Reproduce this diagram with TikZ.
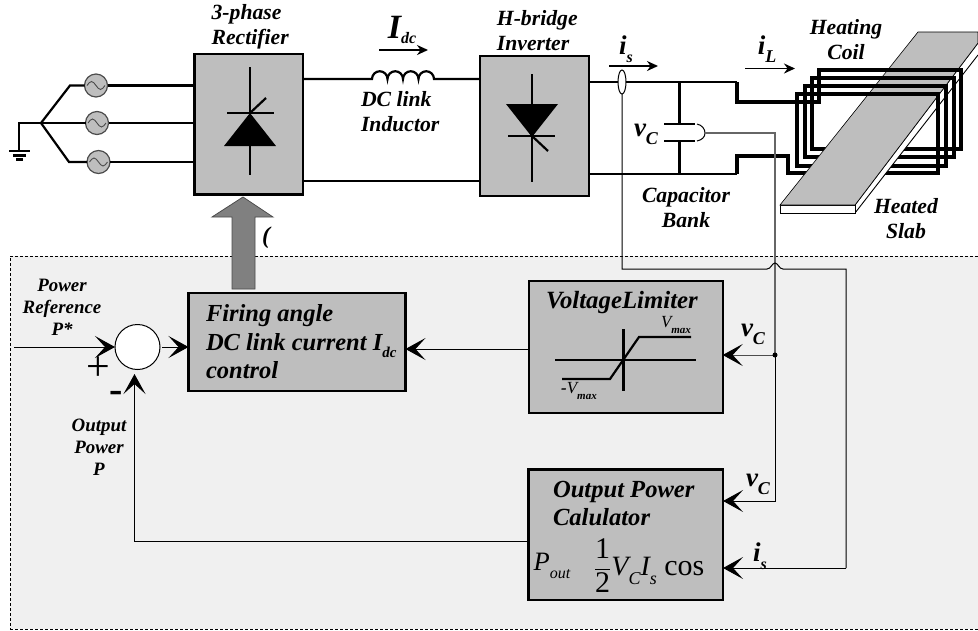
\documentclass[tikz,border=0pt]{standalone}
\usepackage{amsmath}
\usepackage{fontspec}
\setmainfont{Liberation Serif}
\usepackage{xcolor}
\usetikzlibrary{arrows.meta, positioning, shapes.geometric, calc}
\definecolor{blockgray}{RGB}{190, 190, 190}
\definecolor{panelgray}{RGB}{240, 240, 240}
\definecolor{liftgray}{RGB}{128, 128, 128}
\newcommand{\lowtext}[2]{\raisebox{-.3em}{\fontsize{#1}{#1}\selectfont #2}}

\begin{document}
\begin{tikzpicture}[
  x=1pt, y=-1pt,
  every node/.style={inner sep=0pt, outer sep=0pt},
  lbl/.style={font=\fontsize{21.7}{25}\selectfont\bfseries\itshape, align=center},
  smalllbl/.style={font=\fontsize{18.9}{22}\selectfont\bfseries\itshape, align=center},
  biglbl/.style={font=\fontsize{24.5}{28.5}\selectfont\bfseries\itshape, align=left},
  sigvar/.style={font=\fontsize{27}{27}\selectfont\bfseries\itshape},
  blockbox/.style={draw, line width=2.4pt, fill=blockgray},
  srcbox/.style={circle, draw=black!70, line width=1.2pt, fill=blockgray, minimum size=23pt,
    path picture={\draw[line width=.9pt, shift={(path picture bounding box.center)}]
      (-9,0) sin (-4.5,-4) cos (0,0) sin (4.5,4) cos (9,0);}},
  wire/.style={line width=2.2pt},
  coilwire/.style={line width=3.6pt, line join=miter},
  symline/.style={line width=2.2pt},
  flowarrow/.style={-{Stealth[length=11pt, width=10pt]}, line width=1.8pt},
  sensearrow/.style={-{Stealth[length=20pt, width=22pt, inset=10pt, color=black]}, line width=1pt},
  thinline/.style={line width=1pt},
  grayline/.style={line width=1.2pt, draw=black!60}
]
  \useasboundingbox (0,0) rectangle (978,630);

  % Control panel
  \node[draw, densely dashed, line width=.9pt, fill=panelgray, minimum width=990pt, minimum height=373pt,
    anchor=north west] (panel) at (10,256) {};

  % Power blocks
  \node[blockbox, minimum width=108.7pt, minimum height=140.7pt] (rect) at (248.7,124.3) {};
  \node[blockbox, minimum width=109pt, minimum height=140pt, right=176.7pt of rect, yshift=-1.7pt] (inv) {};
  \node[lbl, align=left, above=5pt of rect, xshift=1.5pt] (rectlbl) {3-phase\\Rectifier};
  \node[lbl, align=left, above=5pt of inv, xshift=3pt] (invlbl) {H-bridge\\Inverter};

  % Three phase sources
  \node[srcbox] (srca) at (96,85.5) {};
  \node[srcbox] (srcb) at (97,123) {};
  \node[srcbox] (srcc) at (98.5,162) {};
  \coordinate (star) at (41,123);
  \coordinate (gnd) at (19,151);
  \draw[wire] (srca) -- (rect.west |- srca);
  \draw[wire] (srcb) -- (rect.west |- srcb);
  \draw[wire] (srcc) -- (rect.west |- srcc);
  \draw[wire] (star) -- (70,85.5) -- (srca);
  \draw[wire] (star) -- (srcb);
  \draw[wire] (star) -- (69,162) -- (srcc);
  \draw[wire] (star) -| (gnd);
  \draw[wire] (9,151) -- (30,151);
  \draw[wire] (13,155.5) -- (26,155.5);
  \draw[wire] (16,159.5) -- (23,159.5);

  % Rectifier thyristor
  \draw[symline] (250,67) -- (250,175);
  \draw[symline] (227,113) -- (274,113);
  \draw[symline] (250,113) -- (266,98);
  \fill (250,113) -- (276,146) -- (224,146) -- cycle;

  % Inverter thyristor
  \draw[symline] (532,74) -- (532,182);
  \draw[symline] (508,136) -- (555,136);
  \draw[symline] (532,136) -- (548,151);
  \fill (532,137) -- (506,104) -- (558,104) -- cycle;

  % DC link
  \coordinate (indl) at (372,79);
  \coordinate (indr) at (434,79);
  \draw[wire] (rect.east |- indl) -- (indl)
    arc[start angle=180, delta angle=180, radius=7.75]
    arc[start angle=180, delta angle=180, radius=7.75]
    arc[start angle=180, delta angle=180, radius=7.75]
    arc[start angle=180, delta angle=180, radius=7.75]
    -- (inv.west |- indr);
  \coordinate (dcb) at (303,181);
  \draw[wire] (dcb) -- (inv.west |- dcb);
  \node[sigvar, font=\fontsize{34}{34}\selectfont\bfseries\itshape] (idc) at (402,30) {I\raisebox{-5pt}{\fontsize{16}{16}\selectfont dc}};
  \draw[flowarrow] (379,50) -- (428,50);
  \node[lbl, align=left, anchor=west] (indlbl) at (361,112) {DC link\\Inductor};

  % Inverter output and coil
  \coordinate (outa) at (737,82);
  \coordinate (outb) at (737,174);
  \draw[wire] (inv.east |- outa) -- (outa);
  \draw[wire] (inv.east |- outb) -- (outb);
  \draw[coilwire] (outa) -- (737,102) -- (819,102) -- (819,70) -- (961,70) -- (961,149)
    -- (812,149) -- (812,78) -- (954,78) -- (954,157)
    -- (805,157) -- (805,86) -- (946,86) -- (946,166)
    -- (797,166) -- (797,94) -- (938,94) -- (938,173)
    -- (788,173) -- (788,156) -- (737,156) -- (outb);

  % Slab, then the part of the coil in front of it
  \fill[white] (855,205) -- (978,43) -- (978,55) -- (855,213) -- cycle;
  \draw[line width=.9pt] (855,205) -- (978,43) (978,55) -- (855,213);
  \draw[line width=.9pt, fill=white] (780,205) rectangle (855,213);
  \draw[line width=.6pt, fill=blockgray] (780,205) -- (918,32) -- (978,32) -- (978,43) -- (855,205) -- cycle;
  \draw[coilwire] (819,102) -- (819,70) -- (961,70) -- (961,149);
  \draw[coilwire] (812,78) -- (954,78) -- (954,157);
  \draw[coilwire] (805,86) -- (946,86) -- (946,166);
  \draw[coilwire] (797,94) -- (938,94) -- (938,173);

  \node[lbl] (coillbl) at (846,39.5) {Heating\\Coil};
  \node[lbl] (slablbl) at (906,219) {Heated\\Slab};

  % Capacitor bank
  \coordinate (captop) at (679.5,124);
  \coordinate (capbot) at (679.5,141);
  \draw[wire] (captop) -- (679.5,82);
  \draw[wire] (capbot) -- (679.5,174);
  \draw[line width=2.4pt] (664,124) -- (695,124);
  \draw[line width=2.4pt] (664,141) -- (695,141);
  \node[sigvar] (vcap) at (646,134) {v\lowtext{18}{C}};
  \node[lbl] (caplbl) at (686,207.5) {Capacitor\\Bank};

  % Current arrows
  \node[sigvar] (istop) at (626,49) {i\lowtext{16}{s}};
  \draw[flowarrow] (609,66) -- (658,66);
  \node[sigvar] (iltop) at (767,49) {i\lowtext{18}{L}};
  \draw[flowarrow] (745,68.5) -- (795,68.5);

  % Firing arrow
  \coordinate (firetip) at (243,197);
  \draw[draw=black!70, line width=.8pt, fill=liftgray] (firetip) -- (273,217) -- (255,217) -- (255,289)
    -- (232,289) -- (232,217) -- (212,217) -- cycle;
  \node[font=\fontsize{24}{24}\selectfont\bfseries\itshape] (alpha) at (266,238) {(};

  % Control blocks
  \node[blockbox, minimum width=217pt, minimum height=98pt] (firing) at (297,342) {};
  \node[biglbl, anchor=west] (firelbl) at (206,342) {Firing angle\\DC link current I\lowtext{15}{dc}\\control};
  \node[blockbox, minimum width=194pt, minimum height=132pt] (limit) at (625.7,346.7) {};
  \node[blockbox, minimum width=194.7pt, minimum height=130.7pt, below=56.6pt of limit] (power) {};
  \node[font=\fontsize{24.8}{24.8}\selectfont\bfseries\itshape] (limitlbl) at (622,303) {VoltageLimiter};
  \node[font=\fontsize{24.6}{28.5}\selectfont\bfseries\itshape, align=left, anchor=north west] (powerlbl) at (553,481) {Output Power\\Calulator};

  % Limiter curve
  \draw[symline] (555,360) -- (696,360);
  \draw[symline] (623.5,329) -- (623.5,391);
  \draw[symline] (562,379) -- (610,379) -- (639,337) -- (691,337);
  \node[font=\fontsize{17}{17}\selectfont\itshape] (vmaxp) at (676,325) {V\lowtext{11}{\bfseries max}};
  \node[font=\fontsize{17}{17}\selectfont\itshape] (vmaxn) at (579,391) {\textbf{-}V\lowtext{11}{\bfseries max}};

  % Power formula
  \node[font=\fontsize{26.5}{27}\selectfont\itshape] (pout) at (552,566) {P\lowtext{16}{out}};
  \node[font=\fontsize{30}{30}\selectfont, anchor=west] (formula) at (594,566)
    {$\dfrac{\mbox{1}}{\mbox{2}}$\textit{\fontsize{28}{28}\selectfont V\lowtext{18}{C}I\lowtext{18}{s}} cos};

  % Summing point
  \node[circle, draw, line width=1pt, fill=white, minimum size=45pt] (sum) at (137.5,347) {};
  \coordinate (refin) at (14,347);
  \coordinate (pin) at (134.5,374);
  \coordinate (sumout) at (162,347);
  \draw[sensearrow] (refin) -- (sum.west);
  \draw[sensearrow] (sumout) -- (firing.west |- sumout);
  \draw[sensearrow] (power.west |- 0,541) -| (pin);
  \draw[sensearrow] (limit.west |- 0,349) -- (firing.east |- 0,349);
  \node[smalllbl] (reflbl) at (62,307) {Power\\Reference\\P*};
  \node[smalllbl] (outlbl) at (99,447) {Output\\Power\\P};
  \node[font=\fontsize{42}{42}\selectfont] (plus) at (98,369) {+};
  \node[font=\fontsize{40}{40}\selectfont\bfseries] (minus) at (116.5,397) {-};

  % Feedback lines
  \coordinate (capsense) at (705,133);
  \coordinate (vbus) at (775,133);
  \coordinate (vdot) at (775,355);
  \coordinate (vend) at (775,501);
  \draw[line width=1pt] (697,124) .. controls (702,125) and (705,129) .. (capsense)
    .. controls (705,137) and (702,140) .. (697,141);
  \draw[grayline] (capsense) -- (vbus) -- (vdot);
  \draw[sensearrow, draw=black!70] (vdot) -- (limit.east |- vdot);
  \draw[sensearrow] (vdot) -- (vend) -- (power.east |- vend);
  \fill (vdot) circle (2.5);
  \node[sigvar] (vlim) at (753,334) {v\lowtext{18}{C}};
  \node[sigvar] (vpow) at (758,484) {v\lowtext{18}{C}};

  \node[ellipse, draw, line width=1pt, fill=white, minimum width=8pt, minimum height=24pt] (sensor) at (622,82) {};
  \coordinate (bumpl) at (767,269);
  \coordinate (bumpr) at (783,269);
  \coordinate (iend) at (846,568);
  \draw[thinline] (sensor.south) -- (622,269) -- (bumpl)
    .. controls (771,269) and (772,263) .. (775,263)
    .. controls (778,263) and (779,269) .. (bumpr) -- (846,269) -- (iend);
  \draw[sensearrow] (iend) -- (power.east |- iend);
  \node[sigvar] (ipow) at (760,556) {i\lowtext{16}{s}};
\end{tikzpicture}
\end{document}
